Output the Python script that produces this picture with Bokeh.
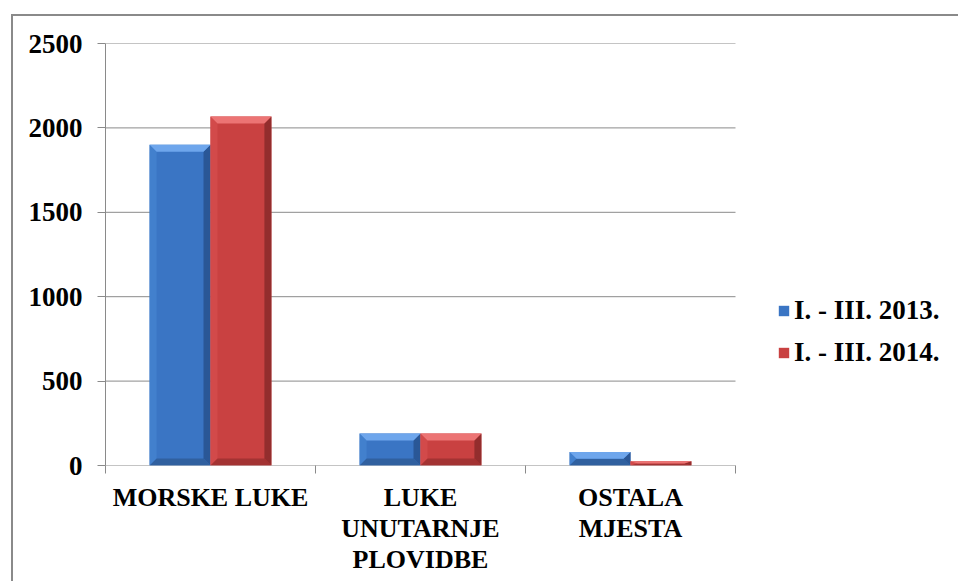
from bokeh.plotting import figure
from bokeh.models import FixedTicker, Legend, LegendItem, ColumnDataSource
from bokeh.embed import file_html
from bokeh.resources import INLINE

# Data
categories = ["MORSKE LUKE", "LUKE\nUNUTARNJE\nPLOVIDBE", "OSTALA\nMJESTA"]
series = ["I. - III. 2013.", "I. - III. 2014."]
values_2013 = [1900, 190, 80]
values_2014 = [2068, 190, 25]
y_ticks = [0, 500, 1000, 1500, 2000, 2500]

# Colours: face, top bevel, left bevel, right bevel, bottom bevel
palettes = [
    dict(face="#3a75c4", top="#6ea6ec", left="#4280cd", right="#2a5796", bottom="#30609f"),
    dict(face="#c94141", top="#ec7474", left="#d24a4a", right="#932d2d", bottom="#a33333"),
]

FONT = "Liberation Serif"
GRAY = "#8a8a8a"

n_cat = len(categories)
cat_px = 210.0                 # pixels per category
frame_w = 960 - 105            # plot area runs to the right edge; the legend sits in it
x_end = frame_w / cat_px

p = figure(
    width=947, height=567,
    x_range=(0, x_end), y_range=(0, 2500),
    output_backend="svg", toolbar_location=None,
    min_border_left=92, min_border_right=0,
    min_border_top=27, min_border_bottom=118,
)
p.margin = (14, 0, 0, 11)
p.styles = {"border-left": f"2px solid {GRAY}", "border-top": f"2px solid {GRAY}"}
p.outline_line_color = None
p.background_fill_color = "white"
p.border_fill_color = "white"

# Horizontal gridlines and the category axis line span only the categories
p.segment(x0=0, x1=n_cat, y0=y_ticks, y1=y_ticks, line_color=GRAY, line_width=1)

# Bars: each category occupies one unit, the two series share 0.58 of it
bar_w = 0.29
y_px = 422.0 / 2500.0   # pixels per y unit
bevel_x = 7.0 / cat_px
bevel_y_full = 7.0 / y_px

renderers = []
for s, (name, vals) in enumerate(zip(series, [values_2013, values_2014])):
    pal = palettes[s]
    xc = [i + 0.5 + (s - 0.5) * bar_w for i in range(n_cat)]
    src = ColumnDataSource(dict(x=xc, top=vals))
    r = p.vbar(x="x", top="top", width=bar_w, bottom=0, source=src,
               fill_color=pal["face"], line_color=None)
    renderers.append(r)

    tops_x, tops_y, lefts_x, lefts_y = [], [], [], []
    rights_x, rights_y, bots_x, bots_y = [], [], [], []
    for x, v in zip(xc, vals):
        L, R, T, B = x - bar_w / 2, x + bar_w / 2, v, 0
        dy = min(bevel_y_full, (T - B) / 2.0)
        dx = bevel_x
        tops_x.append([L, R, R - dx, L + dx]); tops_y.append([T, T, T - dy, T - dy])
        lefts_x.append([L, L + dx, L + dx, L]); lefts_y.append([T, T - dy, B + dy, B])
        rights_x.append([R, R, R - dx, R - dx]); rights_y.append([T, B, B + dy, T - dy])
        bots_x.append([L, R, R - dx, L + dx]); bots_y.append([B, B, B + dy, B + dy])
    p.patches(lefts_x, lefts_y, fill_color=pal["left"], line_color=None)
    p.patches(bots_x, bots_y, fill_color=pal["bottom"], line_color=None)
    p.patches(rights_x, rights_y, fill_color=pal["right"], line_color=None)
    p.patches(tops_x, tops_y, fill_color=pal["top"], line_color=None)

# Axes
xa = p.xaxis[0]
xa.ticker = FixedTicker(ticks=[i + 0.5 for i in range(n_cat)],
                        minor_ticks=list(range(n_cat + 1)))
xa.major_label_overrides = {i + 0.5: c for i, c in enumerate(categories)}
xa.major_tick_out = 0
xa.major_tick_in = 0
xa.minor_tick_out = 8
xa.minor_tick_in = 0
xa.minor_tick_line_color = GRAY
xa.axis_line_color = None
xa.major_label_standoff = 9
xa.major_label_text_font = FONT
xa.major_label_text_font_style = "bold"
xa.major_label_text_font_size = "26px"
xa.major_label_text_color = "black"
xa.major_label_text_line_height = 1.08

ya = p.yaxis[0]
ya.ticker = FixedTicker(ticks=y_ticks)
ya.major_tick_out = 8
ya.major_tick_in = 0
ya.minor_tick_line_color = None
ya.major_tick_line_color = GRAY
ya.axis_line_color = GRAY
ya.major_label_standoff = 15
ya.major_label_text_font = FONT
ya.major_label_text_font_style = "bold"
ya.major_label_text_font_size = "27px"
ya.major_label_text_color = "black"

p.xgrid.grid_line_color = None
p.ygrid.grid_line_color = None

legend = Legend(
    items=[LegendItem(label=n, renderers=[r]) for n, r in zip(series, renderers)],
    location=(672, 97),
    orientation="vertical",
    label_text_font=FONT,
    label_text_font_style="bold",
    label_text_font_size="27px",
    label_text_color="black",
    glyph_width=13, glyph_height=13,
    spacing=11,
    label_standoff=4,
    border_line_color=None,
    background_fill_alpha=0,
    padding=0, margin=0,
)
p.add_layout(legend, "center")

open("out.html", "w").write(file_html(p, INLINE))
